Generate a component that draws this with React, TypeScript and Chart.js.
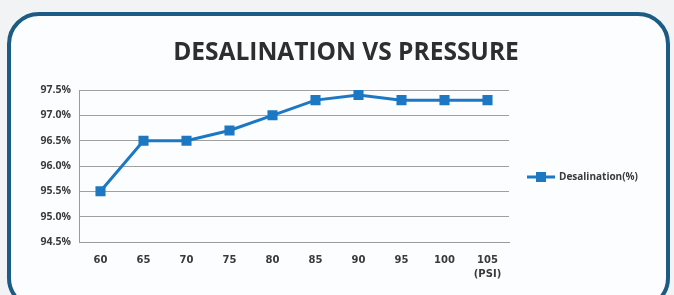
import React, { useEffect, useRef } from "react";
import { Chart, registerables } from "chart.js";

Chart.register(...registerables);

const categories: string[][] = [["60"], ["65"], ["70"], ["75"], ["80"], ["85"], ["90"], ["95"], ["100"], ["105", "(PSI)"]];
const desalination: number[] = [95.5, 96.5, 96.5, 96.7, 97.0, 97.3, 97.4, 97.3, 97.3, 97.3];
const seriesName = "Desalination(%)";
const chartTitle = "DESALINATION VS PRESSURE";
const yMin = 94.5;
const yMax = 97.5;
const yStep = 0.5;

const BLUE = "#1c78c2";
const TEXT = "#3a3a3a";

const overlayPlugin = {
  id: "overlay",
  afterDraw(chart: any) {
    const ctx = chart.ctx;
    ctx.save();
    // title
    ctx.fillStyle = "#2e2e2e";
    ctx.font = "bold 24.5px 'Open Sans'";
    ctx.textAlign = "center";
    ctx.textBaseline = "middle";
    ctx.fillText(chartTitle, 346, 53);
    // legend
    const ly = 177;
    ctx.strokeStyle = BLUE;
    ctx.lineWidth = 3;
    ctx.beginPath();
    ctx.moveTo(527, ly);
    ctx.lineTo(555, ly);
    ctx.stroke();
    ctx.fillStyle = BLUE;
    ctx.fillRect(536, ly - 5, 10, 10);
    ctx.fillStyle = TEXT;
    ctx.font = "bold 10px 'Open Sans'";
    ctx.textAlign = "left";
    ctx.fillText(seriesName, 559, ly);
    ctx.restore();
  },
};

export default function App() {
  const ref = useRef<HTMLCanvasElement>(null);
  useEffect(() => {
    document.body.style.margin = "0";
    const chart = new Chart(ref.current!, {
      type: "line",
      data: {
        labels: categories,
        datasets: [
          {
            label: seriesName,
            data: desalination,
            borderColor: BLUE,
            backgroundColor: BLUE,
            borderWidth: 3,
            pointStyle: "rect",
            pointRadius: 5,
            pointHoverRadius: 5,
            tension: 0,
          },
        ],
      },
      options: {
        animation: false,
        responsive: false,
        layout: { padding: { top: 90, right: 165, left: 0, bottom: 0 } },
        plugins: { legend: { display: false }, title: { display: false }, tooltip: { enabled: false } },
        scales: {
          x: {
            offset: true,
            grid: { display: false, drawTicks: false },
            border: { display: true, color: "#9a9a9a", width: 1 },
            ticks: { color: TEXT, font: { family: "'DejaVu Sans'", weight: "bold", size: 10, lineHeight: 1.45 }, padding: 11, maxRotation: 0, autoSkip: false },
            afterFit: (s: any) => { s.height = 53; },
          },
          y: {
            min: yMin,
            max: yMax,
            grid: { color: "#a0a0a0", lineWidth: 1, drawTicks: false },
            border: { display: true, color: "#9a9a9a", width: 1 },
            ticks: {
              stepSize: yStep,
              color: TEXT,
              font: { family: "'Open Sans'", weight: "bold", size: 10.5 },
              padding: 8,
              callback: (v: any) => Number(v).toFixed(1) + "%",
            },
            afterFit: (s: any) => { s.width = 79; },
          },
        },
      },
      plugins: [overlayPlugin],
    });
    return () => chart.destroy();
  }, []);
  return (
    <div style={{ position: "relative", width: 674, height: 295, background: "#f1f3f5", overflow: "hidden" }}>
      <div
        style={{
          position: "absolute",
          left: 7,
          top: 12,
          width: 655,
          height: 290,
          border: "4px solid #1b5b84",
          borderRadius: 32,
          background: "#fcfdfe",
        }}
      />
      <canvas ref={ref} width={674} height={295} style={{ position: "absolute", left: 0, top: 0 }} />
    </div>
  );
}
